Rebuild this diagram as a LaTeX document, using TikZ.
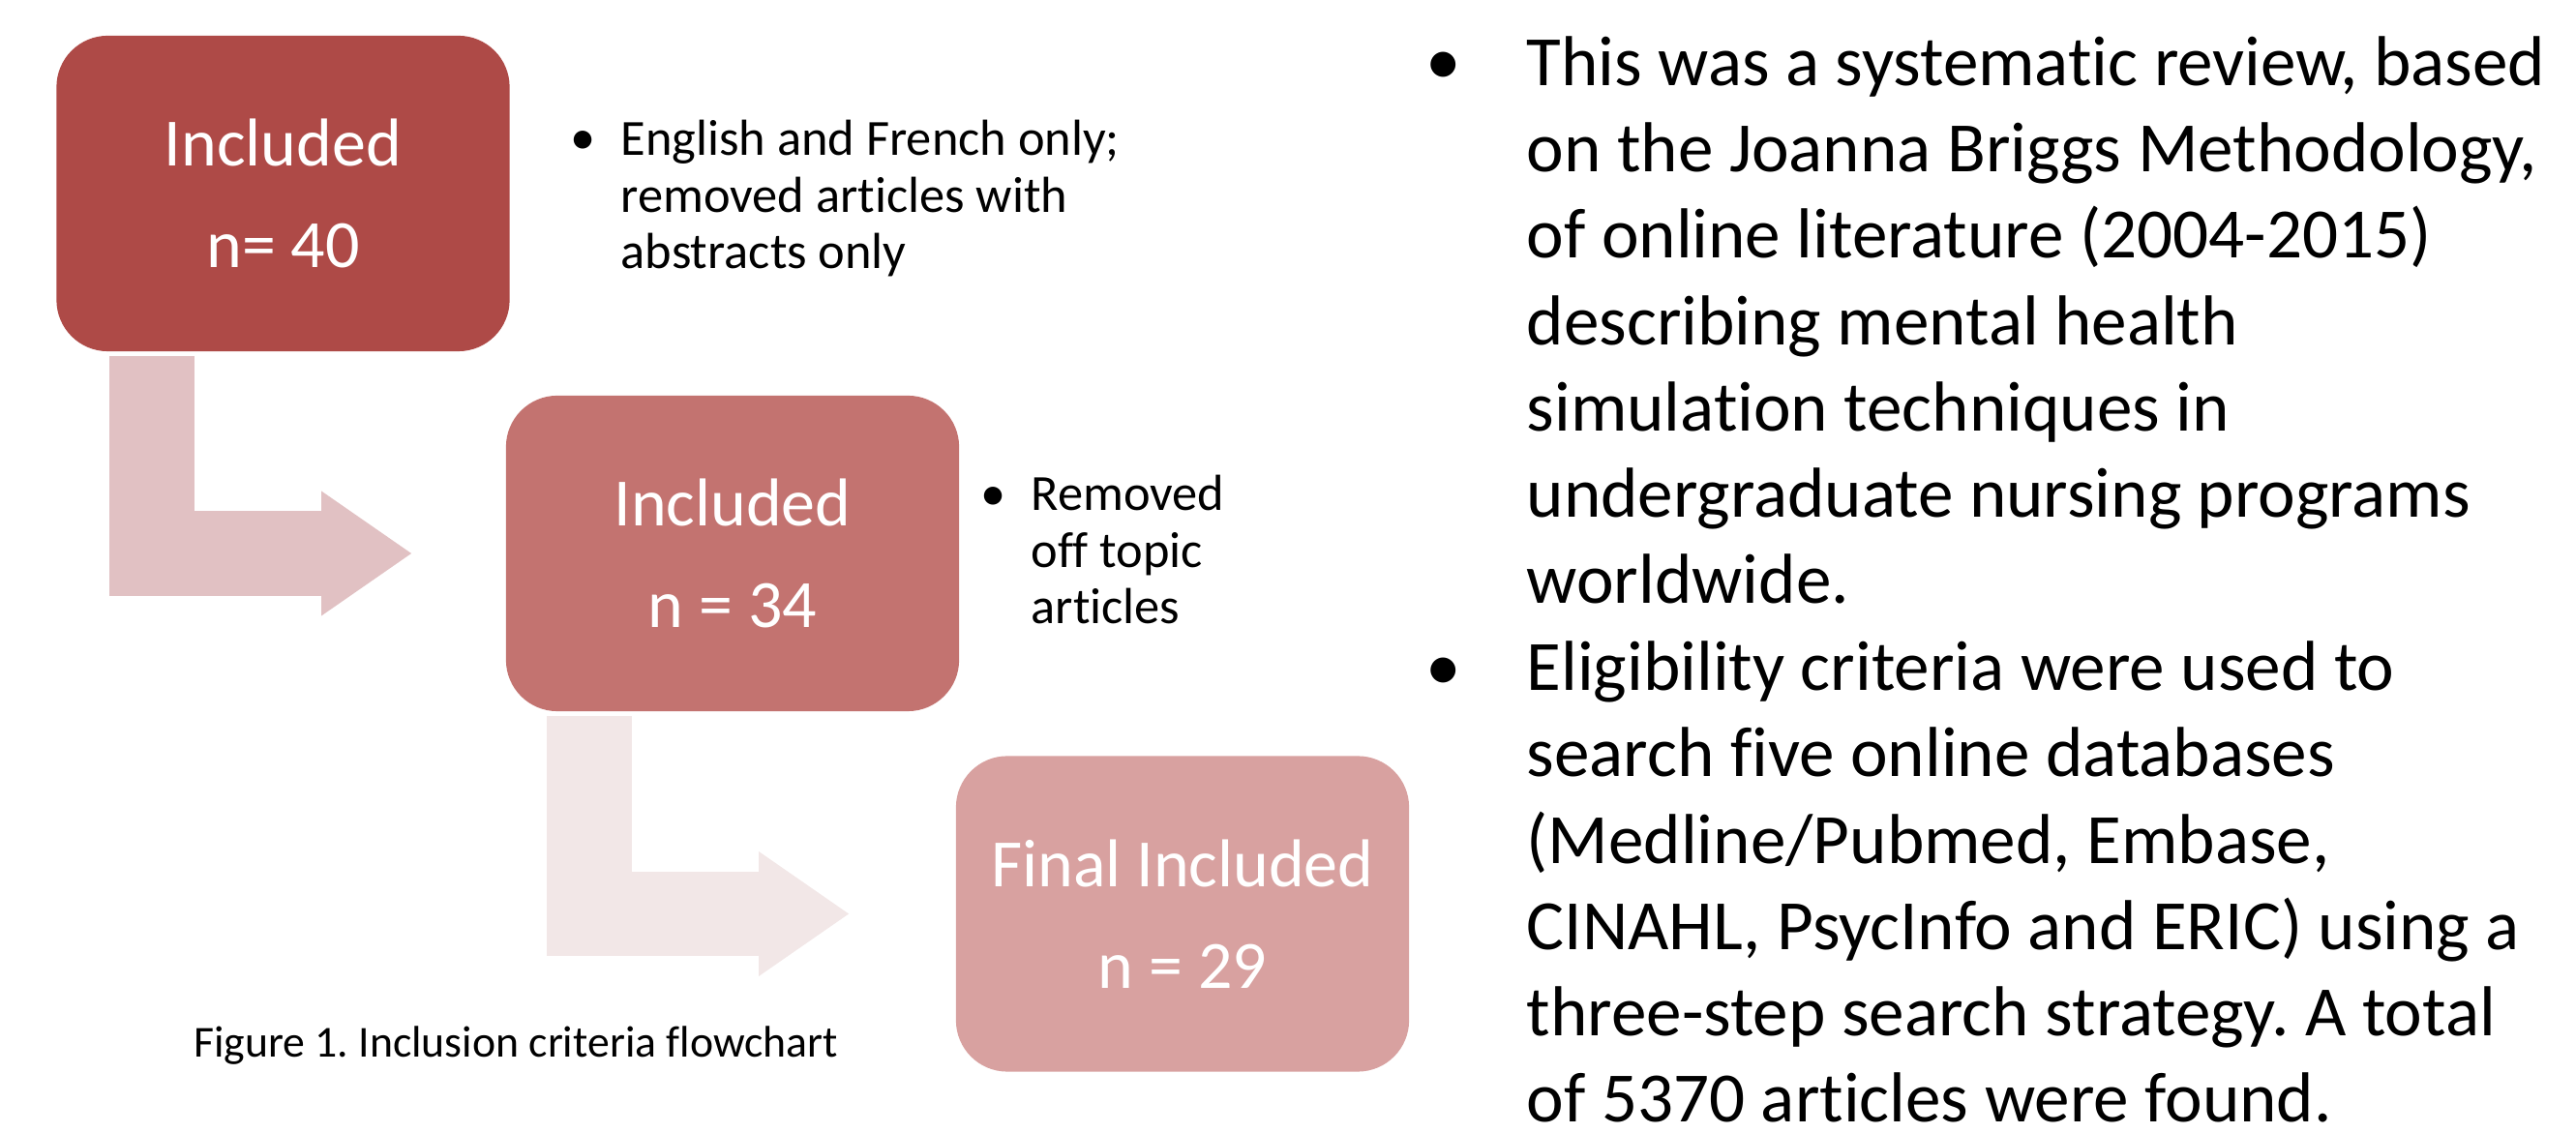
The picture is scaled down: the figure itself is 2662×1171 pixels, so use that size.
\documentclass[tikz,border=0pt]{standalone}
\usepackage{fontspec}
\setmainfont{Carlito}[Ligatures=NoCommon]
\frenchspacing
\usetikzlibrary{arrows.meta}
\definecolor{caixaA}{HTML}{AE4A47}
\definecolor{caixaB}{HTML}{C37370}
\definecolor{caixaC}{HTML}{D8A1A0}
\definecolor{setaA}{HTML}{E1C1C3}
\definecolor{setaB}{HTML}{F2E7E7}

\begin{document}
\begin{tikzpicture}[x=0.01cm, y=-0.01cm,
  caixa/.style={rectangle, rounded corners=0.53cm, minimum width=4.68cm, minimum height=3.26cm,
    inner sep=0pt, text=white, align=center, font=\fontsize{19.9}{29.9}\selectfont},
  seta/.style={line width=0.87cm, line join=miter,
    -{Triangle[length=0.93cm, width=1.29cm, line width=0pt]}},
  nota/.style={anchor=base west, inner sep=0pt, align=left, font=\fontsize{14.9}{16.7}\selectfont},
  texto/.style={anchor=base west, inner sep=0pt, align=left, font=\fontsize{20.8}{25.4}\selectfont}]

\useasboundingbox (0,0) rectangle (2662,1171);

% Caixas
\node[caixa, fill=caixaA] (inc40) at (292.5,200) {Included\\n= 40};
\node[caixa, fill=caixaB] (inc34) at (757,572) {Included\\n = 34};
\node[caixa, fill=caixaC] (inc29) at (1222,944.5) {Final Included\\n = 29};

% Setas dobradas
\coordinate (s1) at (157,368);
\coordinate (s2) at (609,740);
\draw[seta, setaA, shorten >=0.97cm] (s1) |- (inc34.west);
\draw[seta, setaB, shorten >=1.10cm] (s2) |- (inc29.west);

% Notas ao lado das caixas (base = ultima linha)
\node[nota] (nota1) at (641,278) {English and French only;\\removed articles with\\abstracts only};
\node[nota] (nota2) at (1065,645) {Removed\\off topic\\articles};

% Texto da direita (base = ultima linha)
\node[texto] (resumo1) at (1577,624) {This was a systematic review, based\\on the Joanna Briggs Methodology,\\of online literature (2004-2015)\\describing mental health\\simulation techniques in\\undergraduate nursing programs\\worldwide.};
\node[texto] (resumo2) at (1577,1160) {Eligibility criteria were used to\\search five online databases\\(Medline/Pubmed, Embase,\\CINAHL, PsycInfo and ERIC) using a\\three-step search strategy. A total\\of 5370 articles were found.};

% Marcadores
\foreach \x/\y/\n/\tam in {603/160/1/14.9, 1027/528/2/14.9, 1492/88/3/20.8, 1492/714/4/20.8}
  \node[anchor=base, inner sep=0pt, font=\fontsize{\tam}{\tam}\selectfont] (bala\n) at (\x,\y) {•};

% Legenda
\node[anchor=base, inner sep=0pt, font=\fontsize{13}{15.6}\selectfont] (legenda) at (533,1093) {Figure 1. Inclusion criteria flowchart};
\end{tikzpicture}
\end{document}
